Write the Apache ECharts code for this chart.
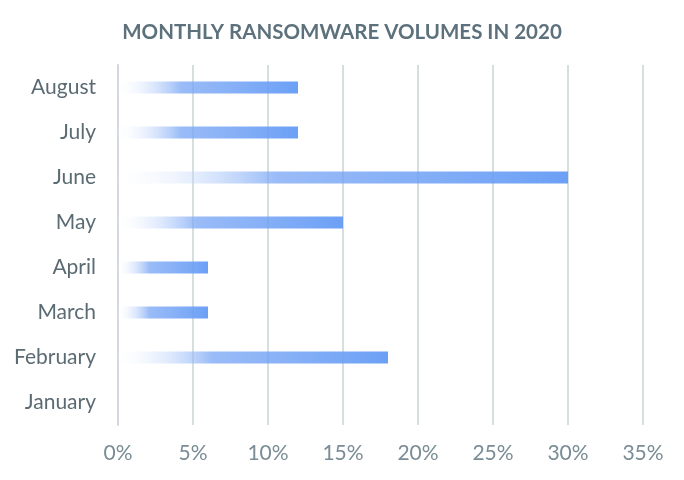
<!DOCTYPE html>
<html>
<head>
<meta charset="utf-8">
<script src="https://cdn.jsdelivr.net/npm/echarts@6/dist/echarts.min.js"></script>
<style>html,body{margin:0;padding:0;background:#fff}#c{width:684px;height:480px}</style>
</head>
<body>
<div id="c"></div>
<script>
const categories = ["January","February","March","April","May","June","July","August"];
const values = [0, 18, 6, 6, 15, 30, 12, 12];
const tickMax = 35;
const tickStep = 5;

const chart = echarts.init(document.getElementById('c'), null, {renderer:'canvas'});
chart.setOption({
  animation: false,
  title: {
    text: 'MONTHLY RANSOMWARE VOLUMES IN 2020',
    left: 'center', top: 17,
    textStyle: {fontFamily: 'Lato', fontSize: 20.5, fontWeight: 'bold', color: '#5d717c'}
  },
  grid: {left: 118, right: 41, top: 65, bottom: 55},
  xAxis: {
    type: 'value', min: 0, max: tickMax, interval: tickStep,
    axisLine: {show: false}, axisTick: {show: false},
    splitLine: {lineStyle: {color: '#c9d5d5', width: 1.5}},
    axisLabel: {formatter: '{value}%', margin: 18, fontFamily: 'Lato', fontSize: 21, color: '#7a8c95'}
  },
  yAxis: {
    type: 'category', data: categories,
    axisLine: {show: true, lineStyle: {color: '#d4d6e4', width: 2}},
    axisTick: {show: false},
    axisLabel: {margin: 22, fontFamily: 'Lato', fontSize: 21, color: '#5b6b73'}
  },
  series: [{
    type: 'bar', data: values, barWidth: 12,
    itemStyle: {
      color: new echarts.graphic.LinearGradient(0, 0, 1, 0, [
        {offset: 0, color: 'rgba(255,255,255,0.1)'},
        {offset: 0.35, color: 'rgba(120,165,245,0.75)'},
        {offset: 1, color: 'rgba(100,155,245,0.95)'}
      ])
    }
  }]
});
</script>
</body>
</html>
